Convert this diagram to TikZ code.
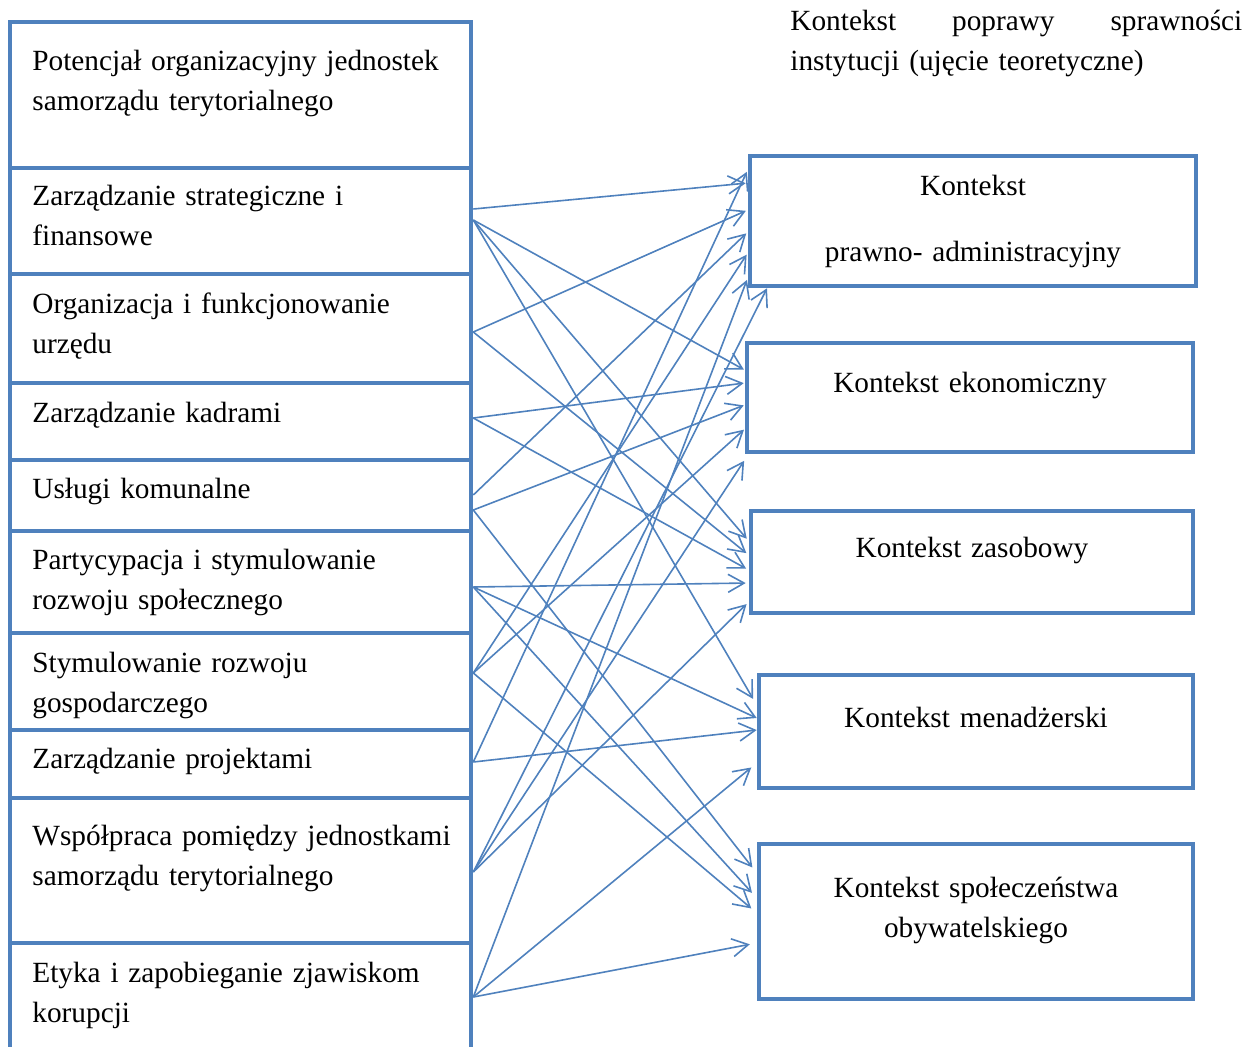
\documentclass[tikz,border=0pt]{standalone}
\usepackage{fontspec}
\setmainfont{Liberation Serif}
\usepackage{tikz}
\usetikzlibrary{arrows.meta, fit}
\definecolor{ctxblue}{RGB}{79,129,189}
\newcommand{\ctxfont}{\fontsize{14.65}{20}\selectfont}

\begin{document}
\begin{tikzpicture}[x=0.5pt, y=-0.5pt,
  frame/.style={draw=ctxblue, line width=2.3pt, inner sep=0pt},
  ltext/.style={anchor=base west, inner sep=0pt, text width=216pt, align=left, font=\ctxfont},
  ktext/.style={anchor=base, inner sep=0pt, text width=216pt, align=center, font=\ctxfont},
  link/.style={ctxblue, line width=0.8pt, -{Straight Barb[length=8pt, width=9pt]}}]
  \useasboundingbox (0,0) rectangle (1248,1046);

  % left column
  \foreach \i/\ya/\yb in {0/22/168, 1/168/274, 2/274/383, 3/383/460, 4/460/531,
                          5/531/633, 6/633/730, 7/730/798, 8/798/943, 9/943/1060}
    \node[frame, fit={(10,\ya)(471,\yb)}] (l\i) {};
  \foreach \i/\y/\txt in {0/70/{Potencjał organizacyjny jednostek\\samorządu terytorialnego},
                          1/205/{Zarządzanie strategiczne i\\finansowe},
                          2/313/{Organizacja i funkcjonowanie\\urzędu},
                          3/422/{Zarządzanie kadrami},
                          4/498/{Usługi komunalne},
                          5/569/{Partycypacja i stymulowanie\\rozwoju społecznego},
                          6/672/{Stymulowanie rozwoju\\gospodarczego},
                          7/768/{Zarządzanie projektami},
                          8/845/{Współpraca pomiędzy jednostkami\\samorządu terytorialnego},
                          9/982/{Etyka i zapobieganie zjawiskom\\korupcji}}
    \node[ltext] (t\i) at (32,\y) {\txt};

  % right column
  \node[anchor=base west, inner sep=0pt, text width=226pt, align=left, font=\ctxfont] (title) at (790,30)
    {Kontekst\hfill poprawy\hfill sprawności\\instytucji (ujęcie teoretyczne)};
  \node[frame, fit={(750,156)(1196,286)}] (k1) {};
  \node[frame, fit={(747,343)(1193,452)}] (k2) {};
  \node[frame, fit={(751,511)(1193,613)}] (k3) {};
  \node[frame, fit={(759,675)(1193,788)}] (k4) {};
  \node[frame, fit={(759,844)(1193,999)}] (k5) {};
  \node[ktext] (kt1) at (973,195) {Kontekst\\[13pt]prawno- administracyjny};
  \node[ktext] (kt2) at (970,392) {Kontekst ekonomiczny};
  \node[ktext] (kt3) at (972,557) {Kontekst zasobowy};
  \node[ktext] (kt4) at (976,727) {Kontekst menadżerski};
  \node[ktext] (kt5) at (976,897) {Kontekst społeczeństwa\\obywatelskiego};

  % links
  \foreach \src/\sy/\dst/\dy/\sh in {l1/209/k1/183/1, l1/220/k2/370/0.5, l1/220/k3/541/1.5, l1/220/k4/705/3.5,
                                     l2/332/k1/210/1, l2/332/k3/555/1.5,
                                     l3/418/k2/383/0.5, l3/418/k3/570/1.5,
                                     l4/495/k1/232/1, l4/510/k2/405/0.5, l4/510/k5/873/3.5,
                                     l5/587/k3/583/1.5, l5/587/k4/718/0, l5/587/k5/898/3.5,
                                     l6/673/k1/253/1, l6/673/k2/429/0.5, l6/673/k5/913/3.5,
                                     l7/762/k1/170/1, l7/762/k4/730/0,
                                     l8/872/k2/460/0.5, l8/872/k3/602/1.5,
                                     l9/997/k1/278/1, l9/997/k4/763/3.5, l9/997/k5/943/3.5}
    \draw[link, shorten >=\sh pt] (\src.east |- 0,\sy) -- (\dst.west |- 0,\dy);
  \draw[link] (l8.east |- 0,872) -- (k1.south -| 767,0);
\end{tikzpicture}
\end{document}
